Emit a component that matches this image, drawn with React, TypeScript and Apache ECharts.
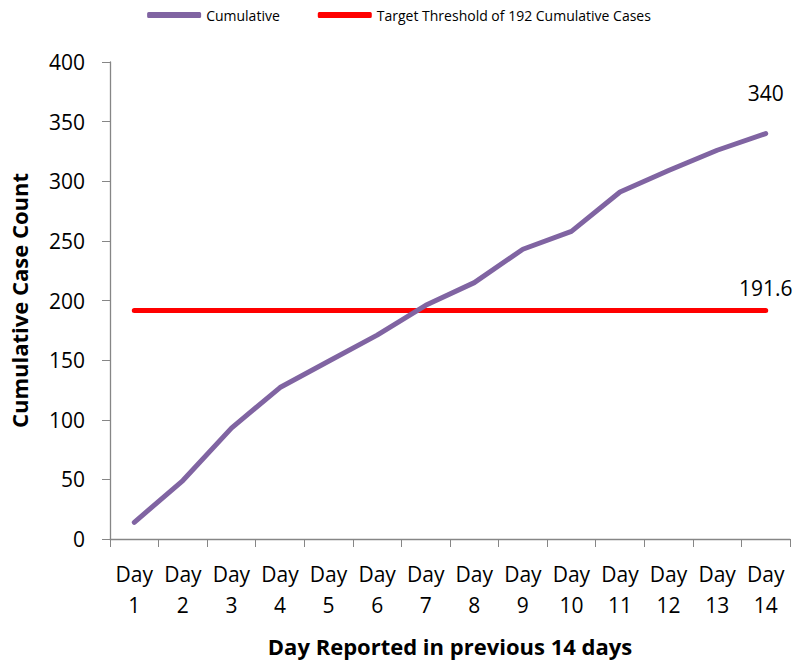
import React, { useEffect, useRef } from "react";
import * as echarts from "echarts";

const categories = ["Day\n1", "Day\n2", "Day\n3", "Day\n4", "Day\n5", "Day\n6", "Day\n7", "Day\n8", "Day\n9", "Day\n10", "Day\n11", "Day\n12", "Day\n13", "Day\n14"];
const cumulative = [14, 49, 93, 127, 149, 171, 196, 215, 243, 258, 291, 309, 326, 340];
const threshold = [191.6, 191.6, 191.6, 191.6, 191.6, 191.6, 191.6, 191.6, 191.6, 191.6, 191.6, 191.6, 191.6, 191.6];
const yTicks = { min: 0, max: 400, interval: 50 };

const FONT = "'Open Sans', 'Noto Sans', sans-serif";

export default function App() {
  const ref = useRef<HTMLDivElement>(null);
  useEffect(() => {
    if (!ref.current) return;
    const chart = echarts.init(ref.current, null, { renderer: "svg" });
    const last = cumulative.length - 1;
    const labelStyle = { fontSize: 21, color: "#000", fontFamily: FONT };
    chart.setOption({
      animation: false,
      backgroundColor: "#ffffff",
      textStyle: { fontFamily: FONT },
      legend: {
        top: 3,
        left: "center",
        itemWidth: 54,
        itemHeight: 6,
        itemGap: 38,
        textStyle: { fontSize: 14, color: "#000", fontFamily: FONT },
        data: [
          { name: "Cumulative", icon: "roundRect" },
          { name: "Target Threshold of 192 Cumulative Cases", icon: "roundRect" },
        ],
      },
      grid: { left: 106, right: 8, top: 62, bottom: 122, containLabel: false },
      xAxis: {
        type: "category",
        data: categories,
        boundaryGap: true,
        axisLine: { lineStyle: { color: "#868686", width: 1.3 } },
        axisTick: { show: true, length: 8, lineStyle: { color: "#868686" } },
        axisLabel: { fontSize: 21, color: "#000", lineHeight: 31, margin: 19, interval: 0, fontFamily: FONT },
        name: "Day Reported in previous 14 days",
        nameLocation: "middle",
        nameGap: 96,
        nameTextStyle: { fontSize: 22, fontWeight: "bold", color: "#000", fontFamily: FONT },
      },
      yAxis: {
        type: "value",
        min: yTicks.min,
        max: yTicks.max,
        interval: yTicks.interval,
        splitLine: { show: false },
        axisLine: { show: true, lineStyle: { color: "#868686", width: 1.3 } },
        axisTick: { show: true, length: 8, lineStyle: { color: "#868686" } },
        axisLabel: { fontSize: 21, color: "#000", margin: 25, fontFamily: FONT },
        name: "Cumulative Case Count",
        nameLocation: "middle",
        nameGap: 80,
        nameTextStyle: { fontSize: 22, fontWeight: "bold", color: "#000", fontFamily: FONT },
      },
      series: [
        {
          name: "Cumulative",
          type: "line",
          data: cumulative.map((v, i) =>
            i === last
              ? { value: v, label: { show: true, position: "top", distance: 30, ...labelStyle } }
              : v
          ),
          symbol: "circle",
          symbolSize: 0,
          showSymbol: true,
          lineStyle: { color: "#8064A2", width: 5, cap: "round", join: "round" },
          itemStyle: { color: "#8064A2" },
          z: 3,
        },
        {
          name: "Target Threshold of 192 Cumulative Cases",
          type: "line",
          data: threshold.map((v, i) =>
            i === last
              ? { value: v, label: { show: true, position: "top", distance: 12, ...labelStyle } }
              : v
          ),
          symbol: "circle",
          symbolSize: 0,
          showSymbol: true,
          lineStyle: { color: "#FF0000", width: 5, cap: "round" },
          itemStyle: { color: "#FF0000" },
          z: 2,
        },
      ],
    });
    return () => chart.dispose();
  }, []);
  return <div ref={ref} style={{ position: "absolute", left: 0, top: 0, width: 798, height: 662 }} />;
}
